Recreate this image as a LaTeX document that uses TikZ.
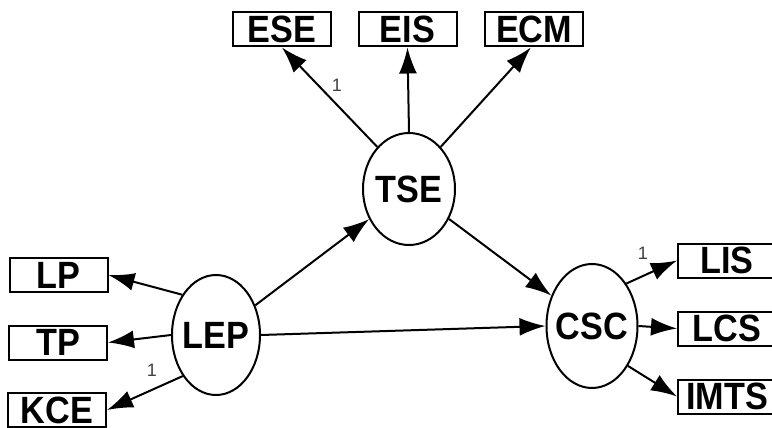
\documentclass[tikz,border=0pt]{standalone}
\usepackage{fontspec}
\setmainfont{Liberation Sans}
\usetikzlibrary{shapes.geometric,arrows.meta}
\newcommand{\mylbl}[1]{\makebox[0pt]{\scalebox{0.9}[1]{#1}}}
\begin{document}
\begin{tikzpicture}[x=1pt,y=-1pt,
  obs/.style={draw,line width=2pt,minimum width=98pt,minimum height=34pt,inner sep=0pt,font=\fontsize{38}{38}\selectfont\bfseries},
  lat/.style={draw,ellipse,line width=2pt,inner sep=0pt,font=\fontsize{38}{38}\selectfont\bfseries},
  arr/.style={line width=2pt,-{Latex[length=26pt,width=18pt]}},
  one/.style={font=\fontsize{18}{18}\selectfont,text=black!75,inner sep=0pt}]
\useasboundingbox (0,0) rectangle (772,428);
% observed
\node[obs] (ESE) at (282,29.5) {\mylbl{ESE}};
\node[obs] (EIS) at (407.5,29.5) {\mylbl{EIS}};
\node[obs] (ECM) at (534,29.5) {\mylbl{ECM}};
\node[obs] (LP) at (58.5,275) {\mylbl{LP}};
\node[obs] (TP) at (58,342.5) {\mylbl{TP}};
\node[obs] (KCE) at (57,410) {\mylbl{KCE}};
\node[obs] (LIS) at (727,260.5) {\mylbl{LIS}};
\node[obs] (LCS) at (727,328.5) {\mylbl{LCS}};
\node[obs] (IMTS) at (727,396.5) {\mylbl{IMTS}};
% latent
\node[lat,minimum width=92pt,minimum height=112pt] (TSE) at (409,189) {\mylbl{TSE}};
\node[lat,minimum width=88pt,minimum height=120pt] (LEP) at (216,335) {\mylbl{LEP}};
\node[lat,minimum width=91pt,minimum height=124pt] (CSC) at (592,326) {\mylbl{CSC}};
% arrows
\draw[arr] (TSE.127) -- (ESE.south);
\draw[arr] (TSE.north) -- (EIS.south);
\draw[arr] (TSE.53) -- (ECM.260);
\draw[arr] (LEP) -- (TSE);
\draw[arr] (TSE) -- (CSC);
\draw[arr] (LEP.east) -- (CSC.west);
\draw[arr] (LEP.130) -- (LP.east);
\draw[arr] (LEP.west) -- (TP.east);
\draw[arr] (LEP.231) -- (KCE.east);
\draw[arr] (CSC.51) -- (LIS.west);
\draw[arr] (CSC.east) -- (LCS.west);
\draw[arr] (CSC.-48) -- (IMTS.west);
% labels
\node[one] (l1) at (337,85) {1};
\node[one] (l2) at (152,370) {1};
\node[one] (l3) at (643,253) {1};
\end{tikzpicture}
\end{document}
